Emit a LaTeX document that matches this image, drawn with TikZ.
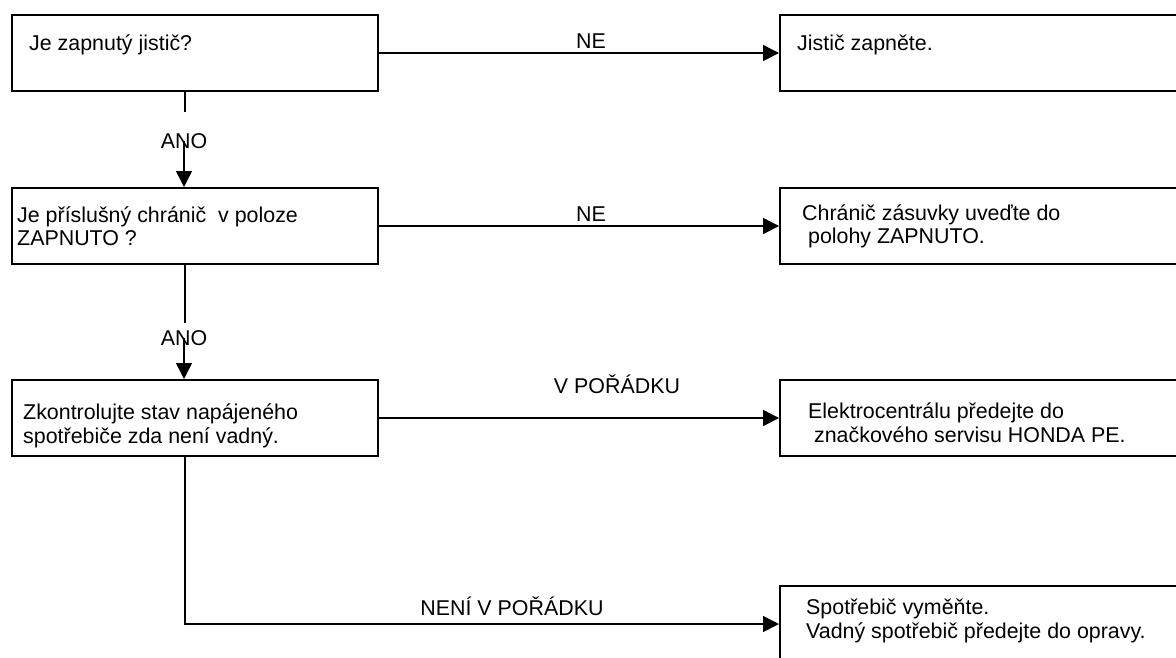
\documentclass[tikz,border=0pt]{standalone}
\usepackage{fontspec}
\setmainfont{Liberation Sans}
\usetikzlibrary{arrows.meta,positioning,calc}

\begin{document}
\begin{tikzpicture}[
  x=1pt, y=-1pt,
  box/.style={draw, line width=2pt, minimum height=76pt, inner sep=0pt, anchor=north west},
  leftbox/.style={box, minimum width=366pt},
  rightbox/.style={box, minimum width=440pt},
  txt/.style={anchor=base west, inner sep=0pt, align=left, font=\fontsize{21.4}{23.5}\selectfont},
  lbl/.style={anchor=base, inner sep=0pt, font=\fontsize{21.4}{23.5}\selectfont},
  arrow/.style={-{Triangle[length=16pt,width=16pt]}, line width=1.5pt},
  link/.style={line width=1.5pt}
]
\clip (0,0) rectangle (1176,657);
\node[leftbox] (q1) at (11,14) {};
\node[leftbox] (q2) at (11,187) {};
\node[leftbox] (q3) at (11,379) {};
\node[rightbox] (r1) at (779,14) {};
\node[rightbox] (r2) at (779,187) {};
\node[rightbox] (r3) at (779,379) {};
\node[rightbox] (r4) at (779,585) {};
\node[txt] (t1) at (29,50) {Je zapnutý jistič?};
\node[txt] (t2) at (17,245.5) {Je příslušný chránič\ \ v poloze\\ZAPNUTO ?};
\node[txt] (t3) at (23,443) {Zkontrolujte stav napájeného\\spotřebiče zda není vadný.};
\node[txt] (s1) at (797,50) {Jistič zapněte.};
\node[txt] (s2) at (802,243.5) {Chránič zásuvky uveďte do\\\hspace*{5.9pt}polohy ZAPNUTO.};
\node[txt] (s3) at (808,442) {Elektrocentrálu předejte do\\\hspace*{5.9pt}značkového servisu HONDA PE.};
\node[txt] (s4) at (806,638) {Spotřebič vyměňte.\\Vadný spotřebič předejte do opravy.};
\node[lbl] (ne1) at (591,48) {NE};
\node[lbl] (ne2) at (591,221.5) {NE};
\node[lbl] (ok) at (617,393) {V POŘÁDKU};
\node[lbl] (nok) at (512,615) {NENÍ V POŘÁDKU};
\node[lbl] (ano1) at (184,148) {ANO};
\node[lbl] (ano2) at (184,345) {ANO};
\draw[arrow] (q1.east) -- (r1.west);
\draw[arrow] (q2.east) -- (r2.west);
\draw[arrow] (q3.east) -- (r3.west);
\draw[arrow] ([xshift=-10pt]q3.south) |- (r4.west);
\draw[link] ([xshift=-10pt]q1.south) -- ++(0,20);
\draw[arrow] (ano1.center) -- (ano1.center |- q2.north);
\draw[link] ([xshift=-10pt]q2.south) -- ++(0,58);
\draw[arrow] (ano2.center) -- (ano2.center |- q3.north);
\end{tikzpicture}
\end{document}
